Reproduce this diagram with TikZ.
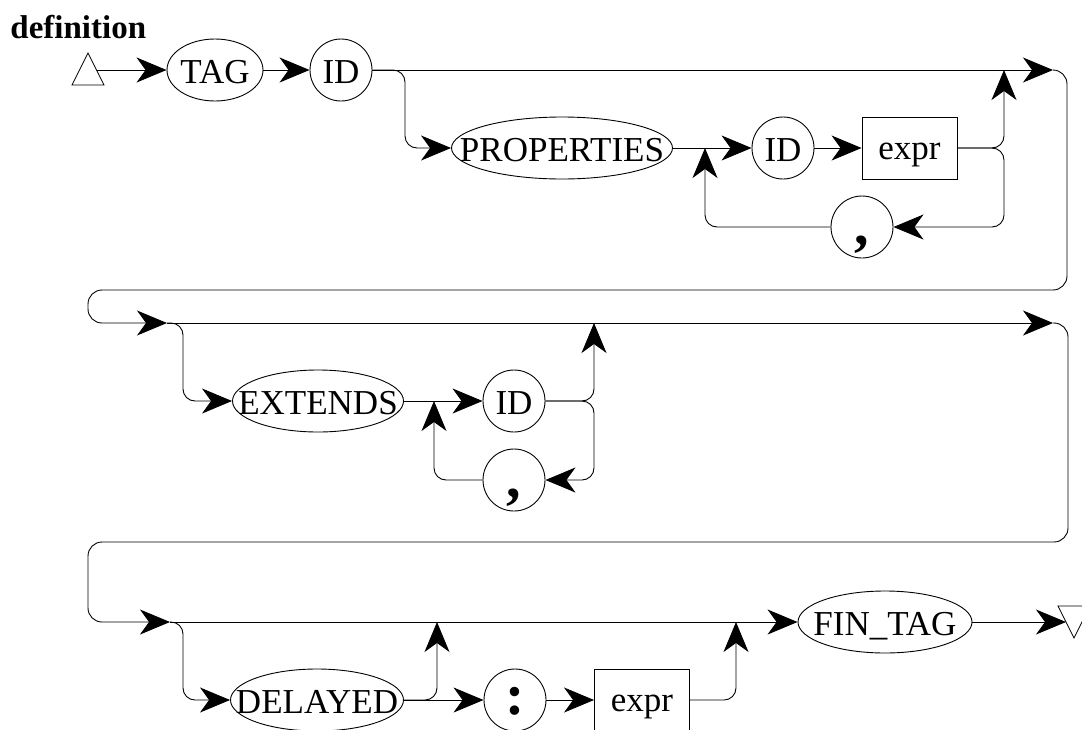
\documentclass[tikz,border=0pt]{standalone}
\usepackage{fontspec}
\setmainfont{Liberation Serif}
\usetikzlibrary{arrows.meta,shapes.geometric}
% text of an oval is kept out of the size calculation
\newcommand{\ovaltext}[1]{\makebox[0pt]{#1}}
\begin{document}
\begin{tikzpicture}[x=1pt,y=-1pt,line width=0.9pt,
  lblfont/.style={font=\fontsize{35}{38}\selectfont},
  oval/.style={draw,ellipse,inner sep=0pt,minimum height=62pt,lblfont,text height=26pt,text depth=0pt},
  disc/.style={draw,circle,inner sep=0pt,minimum size=62pt,lblfont,text height=26pt,text depth=0pt},
  boxed/.style={draw,rectangle,inner sep=0pt,minimum width=95pt,minimum height=62pt,lblfont,text height=22pt,text depth=0pt},
  punct/.style={draw,circle,inner sep=0pt,minimum size=62pt,font=\fontsize{58}{60}\selectfont\bfseries,text height=#1,text depth=0pt},
  arr/.style={-{Stealth[length=30pt,width=25pt,inset=9pt]}},
  rnd/.style={rounded corners=12pt},
  uturn/.style={rounded corners=14pt}]
\useasboundingbox (0,0) rectangle (1082,729);

% title
\node[anchor=base west,inner sep=0pt,font=\fontsize{33}{36}\selectfont\bfseries] (title) at (10,38) {definition};

% start and end markers
\draw[line width=0.8pt] (72,85) -- (88,53) -- (104,85) -- cycle;
\coordinate (start) at (96.5,70);
\draw[line width=0.8pt] (1058,606) -- (1090,606) -- (1074,638) -- cycle;
\coordinate (end) at (1066,622);

% row 1
\node[oval,minimum width=96pt] (tag) at (215,70) {\ovaltext{TAG}};
\node[disc] (id1) at (341,70) {ID};
\node[oval,minimum width=221pt] (prop) at (562,148) {\ovaltext{PROPERTIES}};
\node[disc] (id2) at (783,148) {ID};
\node[boxed] (expr1) at (909.5,148) {expr};
\node[punct=34pt] (com1) at (862,227) {,};

% row 2
\node[oval,minimum width=171pt] (ext) at (318,401) {\ovaltext{EXTENDS}};
\node[disc] (id3) at (514,401) {ID};
\node[punct=34pt] (com2) at (514,480) {,};

% row 3
\node[oval,minimum width=173pt] (del) at (317,700) {\ovaltext{DELAYED}};
\node[punct=29pt] (colon) at (515,700) {:};
\node[boxed] (expr2) at (642,700) {expr};
\node[oval,minimum width=174pt] (fin) at (885,622) {\ovaltext{FIN\_TAG}};

% junction points
\coordinate (j1) at (705,148);
\coordinate (j1top) at (1004,70);
\coordinate (r1) at (1053,70);
\coordinate (l2) at (167,323);
\coordinate (j2) at (434,401);
\coordinate (j2top) at (594,323);
\coordinate (r2) at (1053,323);
\coordinate (l3) at (170,622);
\coordinate (j3a) at (437,622);
\coordinate (j3b) at (736,622);

% row 1 connectors
\draw[arr] (start) -- (tag);
\draw[arr] (tag) -- (id1);
\draw[arr] (id1) -- (r1);
\draw[arr,rnd] (id1.east) -| (405,148) -- (prop.west);
\draw[arr] (prop) -- (id2);
\draw[arr] (id2) -- (expr1);
\draw[arr,rnd] (expr1.east) -| (j1top);
\draw[arr,rnd] (expr1.east) -| (1004,227) -- (com1.east);
\draw[arr,rnd] (com1.west) -| (j1);
\draw[arr,uturn] (r1) -- (1067,70) -- (1067,290) -- (88,290) -- (88,323) -- (l2);

% row 2 connectors
\draw[arr] (l2) -- (r2);
\draw[arr,rnd] (l2) -| (183,401) -- (ext.west);
\draw[arr] (ext) -- (id3);
\draw[arr,rnd] (id3.east) -| (j2top);
\draw[arr,rnd] (id3.east) -| (594,480) -- (com2.east);
\draw[arr,rnd] (com2.west) -| (j2);
\draw[arr,uturn] (r2) -- (1068,323) -- (1068,542) -- (88,542) -- (88,622) -- (l3);

% row 3 connectors
\draw[arr] (l3) -- (fin);
\draw[arr,rnd] (l3) -| (183,700) -- (del.west);
\draw[arr,rnd] (del.east) -| (j3a);
\draw[arr] (del) -- (colon);
\draw[arr] (colon) -- (expr2);
\draw[arr,rnd] (expr2.east) -| (j3b);
\draw[arr] (fin) -- (end);
\end{tikzpicture}
\end{document}
